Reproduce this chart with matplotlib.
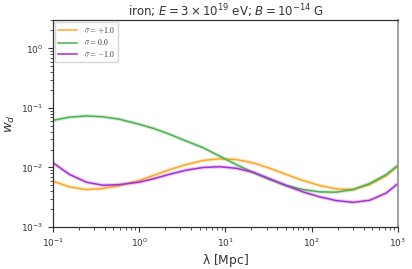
import matplotlib
matplotlib.use("Agg")
import matplotlib.pyplot as plt
from matplotlib.font_manager import FontProperties

# lambda [Mpc] grid
lam = [0.1, 0.156, 0.244, 0.38, 0.594, 1.0, 1.45, 2.27, 3.5, 5.5, 8.56,
       13.3, 20.7, 32.6, 50.8, 79, 124, 193, 301, 469, 733, 1000]

w_plus = [0.00588, 0.00472, 0.00426, 0.00443, 0.00497, 0.00604, 0.00733,
          0.00925, 0.0112, 0.0131, 0.0140, 0.0136, 0.0120, 0.0097, 0.00762,
          0.00604, 0.00497, 0.00437, 0.00426, 0.00517, 0.00733, 0.0108]
w_zero = [0.0620, 0.0700, 0.0734, 0.0710, 0.0645, 0.0531, 0.0455, 0.0360,
          0.0278, 0.0215, 0.0155, 0.0112, 0.00834, 0.00628, 0.00497, 0.00426,
          0.00389, 0.00385, 0.00426, 0.00537, 0.00762, 0.0108]
w_minus = [0.0120, 0.00762, 0.00566, 0.00503, 0.00517, 0.00566, 0.00644,
           0.00772, 0.00901, 0.0100, 0.0103, 0.0097, 0.00834, 0.00644,
           0.00497, 0.00389, 0.00321, 0.00278, 0.0026, 0.00281, 0.00374, 0.00537]

labels = [r"$\sigma = +1.0$", r"$\sigma = 0.0$", r"$\sigma = -1.0$"]
colors = ["#ffa726", "#4caf50", "#a52fd0"]

plt.rcParams["text.color"] = "#333333"
plt.rcParams["axes.labelcolor"] = "#333333"
plt.rcParams["xtick.color"] = "#333333"
plt.rcParams["ytick.color"] = "#333333"

fig = plt.figure(figsize=(4.12, 2.69), dpi=100)
ax = fig.add_axes([0.1286, 0.156, 0.8374, 0.7697])

for w, lab, c in zip([w_plus, w_zero, w_minus], labels, colors):
    ax.plot(lam, w, color=c, lw=2.8, alpha=0.22, solid_capstyle="butt")
    ax.plot(lam, w, color=c, lw=1.1, label=lab)

ax.set_xscale("log")
ax.set_yscale("log")
ax.set_xlim(0.1, 1000)
ax.set_ylim(1e-3, 3)

ax.tick_params(which="major", length=3.5, width=0.8, labelsize=6.5, direction="out")
ax.tick_params(which="minor", length=2, width=0.6, direction="out")
for s in ["left", "bottom", "top"]:
    ax.spines[s].set_color("#333333")
    ax.spines[s].set_linewidth(0.9)
ax.spines["right"].set_color("#999999")
ax.spines["right"].set_linewidth(1.3)

ax.set_xlabel(r"$\mathrm{\lambda}$ [Mpc]", fontsize=8.8, labelpad=2)
ax.set_ylabel(r"$w_d$", fontsize=9.5, labelpad=3)
ax.set_title(r"iron; $E = 3 \times 10^{19}$ eV; $B = 10^{-14}$ G", fontsize=8.5, pad=3)

leg_font = FontProperties(size=5.6, math_fontfamily="cm")
ax.legend(loc="upper left", prop=leg_font, frameon=True, fancybox=False,
          edgecolor="#cccccc", handlelength=2.4, handletextpad=0.9,
          borderpad=0.4, labelspacing=0.2, borderaxespad=0.3)

fig.savefig("out.png", dpi=100)
